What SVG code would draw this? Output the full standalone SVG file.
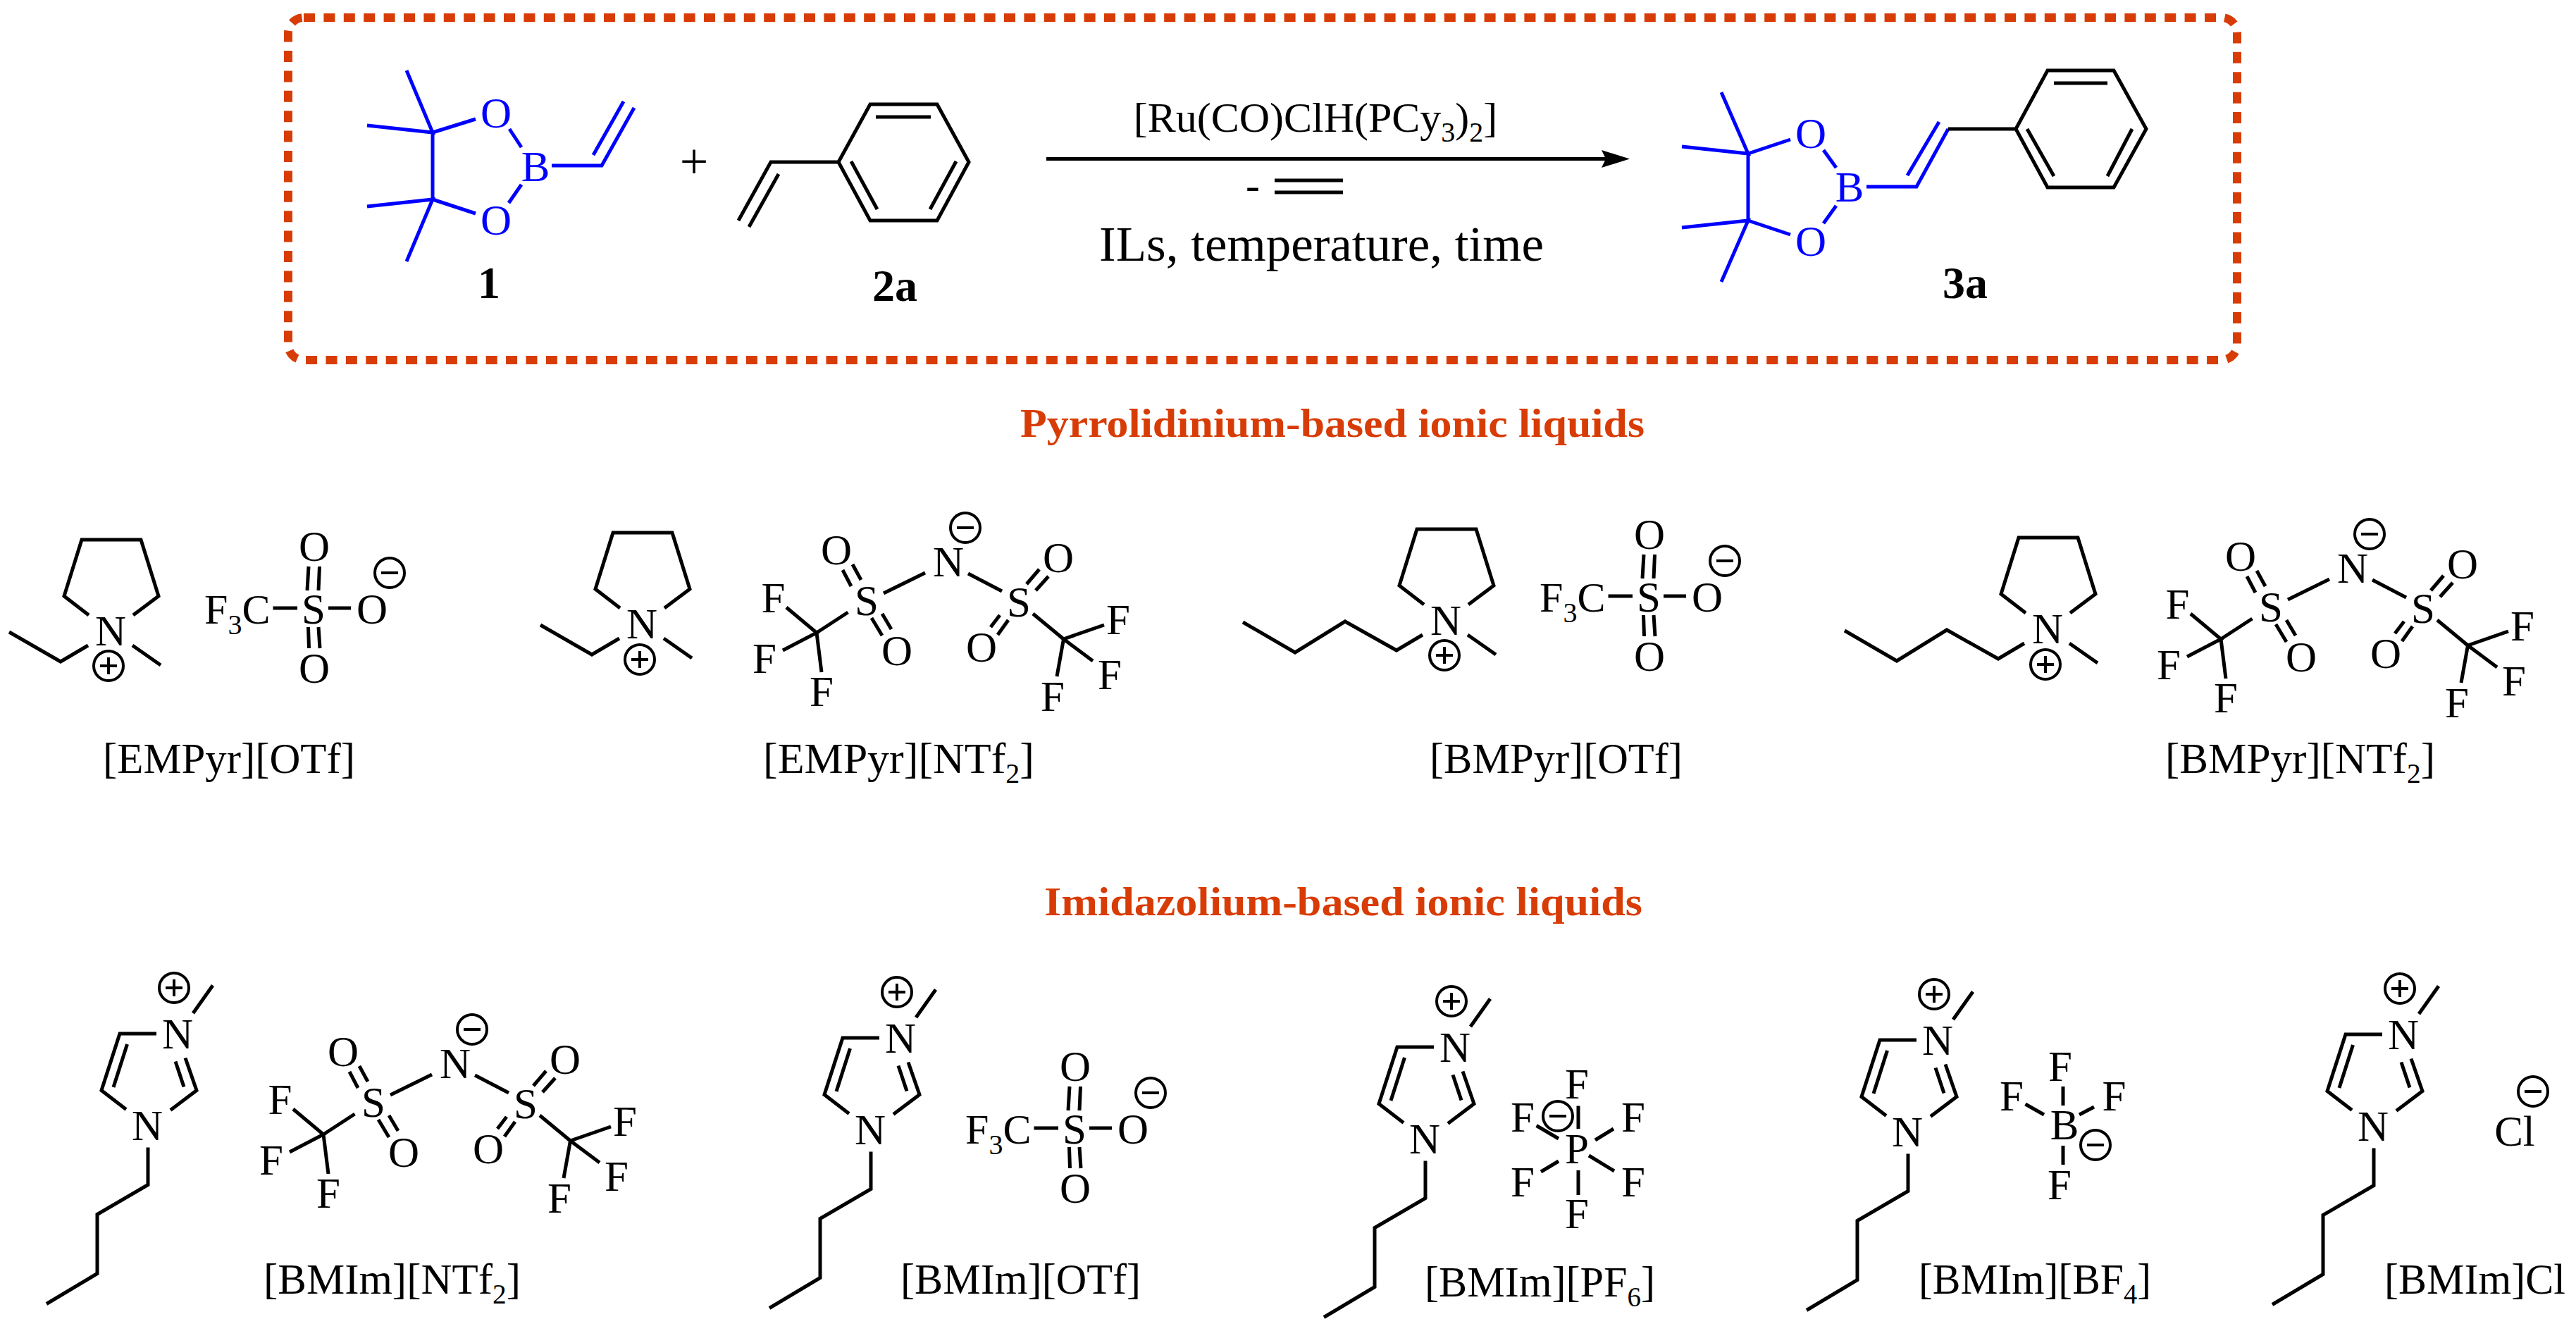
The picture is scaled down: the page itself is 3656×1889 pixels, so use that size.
<svg xmlns="http://www.w3.org/2000/svg" xmlns:xlink="http://www.w3.org/1999/xlink" width="3656" height="1889" viewBox="0 0 3656 1889">
<style>
text{font-family:"Liberation Serif","Times New Roman",serif;fill:#000}
.a{font-size:61px;text-anchor:middle}
.l{font-size:62px}
.s{font-size:40px}
.n{font-size:64px;font-weight:bold;text-anchor:middle}
.h{font-size:58px;font-weight:bold;fill:#D83C06}
.b{fill:none;stroke:#000;stroke-width:5}
.blue .b,.blue.b{stroke:#0000FF}
.blue text{fill:#0000FF}
.c{fill:none;stroke:#000;stroke-width:4}
</style>
<defs>
<g id="plus"><circle r="21"/><path d="M-12,0H12M0,-12V12"/></g>
<g id="minus"><circle r="21"/><path d="M-12,0H12"/></g>
<path id="pyr" d="M-31,-43L-66,-70L-41,-150L43,-150L68,-70L32,-43M31,0L71,28"/>
<path id="et" d="M-32,0L-71,23L-144,-19"/>
<path id="bu" d="M-33,0L-70,22L-143,-19L-214,25L-288,-18"/>
<path id="imi" d="M13,-151H-39L-65,-70.500L-30,-43.500M-28.500,-136L-48,-75M54,-116.500L70,-70.500L33,-42.500M40,-111.500L52,-75.500M65,-180L93,-219.500M1,10.500V63.500L-71,105.500V189.500L-143,232.500"/>
<path id="ntf" d="M-92,24L-33,-5M28,-4L76,21M-138,14L-150,-9M-124,5L-136,-17M111,11L129,-10M124,20L142,0M-109,59L-94,84M-94,53L-81,75M73,55L60,72M85,62L70,83M-142.500,51L-187,80M-230,44L-187,80L-235,105M-187,80L-180,136M120,53L163.500,89M221,69L163.500,89L205,120M163.500,89L154,142"/>
<path id="otf" d="M-57.500,-22H-23M21,-22H53M-7,-81L-9,-47M8.500,-81L7,-47M-7.500,5L-6.500,35M7,5L9,35"/>
</defs>
<rect width="3656" height="1889" fill="#fff"/>

<g id="reaction-frame"><rect x="409" y="25" width="2766" height="486" rx="22" ry="22" fill="none" stroke="#D83C06" stroke-width="12" stroke-dasharray="16 12.400"/></g>

<g id="compound-1" class="blue">
<path class="b" d="M577,100L614,188L521,178M614,188L675,169M614,188V283M521,293L614,283L577,371M614,283L675,303M723,183L740,209M740,262L722,288M783,235H854L900,153M842,220L885,144"/>
<text class="a" x="704" y="181">O</text><text class="a" x="704" y="333">O</text><text class="a" x="760" y="257">B</text>
</g>
<text class="n" x="694" y="423">1</text>
<text class="a" x="985" y="253" style="font-size:72px">+</text>
<g id="compound-2a">
<path class="b" d="M1190,230L1235,148H1330L1375,230L1330,313H1235ZM1243,166H1321M1208,229L1245,297M1357,229L1320,297M1190,230H1094L1048,313M1105,247L1063,322"/>
<text class="n" x="1270" y="427">2a</text>
</g>
<g id="connectors">
<path class="b" d="M1485,225.500H2280"/>
<polygon points="2273,213 2313,225.500 2273,238 2279,225.500" fill="#000"/>
</g>
<g id="conditions">
<text class="a" x="1867" y="187" style="font-size:60px">[Ru(CO)ClH(PCy<tspan class="s" dy="14">3</tspan><tspan dy="-14">)</tspan><tspan class="s" dy="14">2</tspan><tspan dy="-14">]</tspan></text>
<text x="1768" y="283" style="font-size:60px">-</text>
<path class="b" d="M1809,256H1906M1809,273H1906"/>
<text x="1560" y="370" style="font-size:70px" textLength="631" lengthAdjust="spacingAndGlyphs">ILs, temperature, time</text>
</g>
<g id="compound-3a" class="blue">
<path class="b" d="M2443,131L2481,218L2387,208M2481,218L2541,198M2481,218V313M2387,323L2481,313L2443,400M2481,313L2541,333M2588,213L2606,238M2606,292L2588,317M2649,265H2720L2765,183M2707,249L2752,173"/>
<text class="a" x="2570" y="210">O</text><text class="a" x="2570" y="363">O</text><text class="a" x="2625" y="286">B</text>
</g>
<g id="compound-3a-phenyl">
<path class="b" d="M2765,183H2861L2906,100H3000L3046,183L3000,266H2906L2861,183M2915,118H2991M2877,183L2915,250M3026,183L2991,250"/>
<text class="n" x="2789" y="423">3a</text>
</g>

<text id="heading-pyrrolidinium" class="h" x="1448" y="620" textLength="886" lengthAdjust="spacingAndGlyphs">Pyrrolidinium-based ionic liquids</text>

<g id="EMPyr-OTf">
<g transform="translate(157,916)"><g class="b"><use href="#pyr"/><use href="#et"/></g><g class="c"><use href="#plus" x="-3" y="29"/></g><text class="a">N</text></g>
<g transform="translate(445,885)"><g class="b"><use href="#otf"/></g><g class="c"><use href="#minus" x="108" y="-72"/></g><text class="a">S</text><text class="a" x="83">O</text><text class="a" x="1" y="-89">O</text><text class="a" x="1" y="84">O</text><text x="-155" style="font-size:60px">F<tspan class="s" dy="15">3</tspan><tspan dy="-15">C</tspan></text></g>
<text class="l" x="146" y="1097" textLength="358" lengthAdjust="spacingAndGlyphs">[EMPyr][OTf]</text>
</g>
<g id="EMPyr-NTf2">
<g transform="translate(911,906)"><g class="b"><use href="#pyr"/><use href="#et"/></g><g class="c"><use href="#plus" x="-3" y="30"/></g><text class="a">N</text></g>
<g transform="translate(1346,818)"><g class="b"><use href="#ntf"/></g><g class="c"><use href="#minus" x="24" y="-69"/></g><text class="a">N</text><text class="a" x="-116" y="55">S</text><text class="a" x="100" y="57">S</text><text class="a" x="-159" y="-17">O</text><text class="a" x="156" y="-6">O</text><text class="a" x="-73" y="126">O</text><text class="a" x="47" y="121">O</text><text class="a" x="-248.500" y="51">F</text><text class="a" x="-261" y="137">F</text><text class="a" x="-180" y="184">F</text><text class="a" x="241" y="82">F</text><text class="a" x="229" y="160">F</text><text class="a" x="148" y="191">F</text></g>
<text class="l" x="1083" y="1097" textLength="385" lengthAdjust="spacingAndGlyphs">[EMPyr][NTf<tspan class="s" dy="14">2</tspan><tspan dy="-14">]</tspan></text>
</g>
<g id="BMPyr-OTf">
<g transform="translate(2052,901)"><g class="b"><use href="#pyr"/><use href="#bu"/></g><g class="c"><use href="#plus" x="-2" y="29"/></g><text class="a">N</text></g>
<g transform="translate(2340,868)"><g class="b"><use href="#otf"/></g><g class="c"><use href="#minus" x="108" y="-72"/></g><text class="a">S</text><text class="a" x="83">O</text><text class="a" x="1" y="-89">O</text><text class="a" x="1" y="84">O</text><text x="-155" style="font-size:60px">F<tspan class="s" dy="15">3</tspan><tspan dy="-15">C</tspan></text></g>
<text class="l" x="2029" y="1097" textLength="359" lengthAdjust="spacingAndGlyphs">[BMPyr][OTf]</text>
</g>
<g id="BMPyr-NTf2">
<g transform="translate(2906,913)"><g class="b"><use href="#pyr"/><use href="#bu"/></g><g class="c"><use href="#plus" x="-3" y="30"/></g><text class="a">N</text></g>
<g transform="translate(3339,827)"><g class="b"><use href="#ntf"/></g><g class="c"><use href="#minus" x="24" y="-69"/></g><text class="a">N</text><text class="a" x="-116" y="55">S</text><text class="a" x="100" y="57">S</text><text class="a" x="-159" y="-17">O</text><text class="a" x="156" y="-6">O</text><text class="a" x="-73" y="126">O</text><text class="a" x="47" y="121">O</text><text class="a" x="-248.500" y="51">F</text><text class="a" x="-261" y="137">F</text><text class="a" x="-180" y="184">F</text><text class="a" x="241" y="82">F</text><text class="a" x="229" y="160">F</text><text class="a" x="148" y="191">F</text></g>
<text class="l" x="3073" y="1097" textLength="383" lengthAdjust="spacingAndGlyphs">[BMPyr][NTf<tspan class="s" dy="14">2</tspan><tspan dy="-14">]</tspan></text>
</g>

<text id="heading-imidazolium" class="h" x="1482" y="1299" textLength="849" lengthAdjust="spacingAndGlyphs">Imidazolium-based ionic liquids</text>

<g id="BMIm-NTf2">
<g transform="translate(209,1618)"><g class="b"><use href="#imi"/></g><g class="c"><use href="#plus" x="38" y="-216"/></g><text class="a">N</text><text class="a" x="43" y="-130">N</text></g>
<g transform="translate(646,1530)"><g class="b"><use href="#ntf"/></g><g class="c"><use href="#minus" x="24" y="-69"/></g><text class="a">N</text><text class="a" x="-116" y="55">S</text><text class="a" x="100" y="57">S</text><text class="a" x="-159" y="-17">O</text><text class="a" x="156" y="-6">O</text><text class="a" x="-73" y="126">O</text><text class="a" x="47" y="121">O</text><text class="a" x="-248.500" y="51">F</text><text class="a" x="-261" y="137">F</text><text class="a" x="-180" y="184">F</text><text class="a" x="241" y="82">F</text><text class="a" x="229" y="160">F</text><text class="a" x="148" y="191">F</text></g>
<text class="l" x="374" y="1836" textLength="365" lengthAdjust="spacingAndGlyphs">[BMIm][NTf<tspan class="s" dy="14">2</tspan><tspan dy="-14">]</tspan></text>
</g>
<g id="BMIm-OTf">
<g transform="translate(1235,1624)"><g class="b"><use href="#imi"/></g><g class="c"><use href="#plus" x="38" y="-216"/></g><text class="a">N</text><text class="a" x="43" y="-130">N</text></g>
<g transform="translate(1525,1623)"><g class="b"><use href="#otf"/></g><g class="c"><use href="#minus" x="108" y="-72"/></g><text class="a">S</text><text class="a" x="83">O</text><text class="a" x="1" y="-89">O</text><text class="a" x="1" y="84">O</text><text x="-155" style="font-size:60px">F<tspan class="s" dy="15">3</tspan><tspan dy="-15">C</tspan></text></g>
<text class="l" x="1278" y="1836" textLength="341" lengthAdjust="spacingAndGlyphs">[BMIm][OTf]</text>
</g>
<g id="BMIm-PF6">
<g transform="translate(2022,1637)"><g class="b"><use href="#imi"/></g><g class="c"><use href="#plus" x="38" y="-216"/></g><text class="a">N</text><text class="a" x="43" y="-130">N</text></g>
<path class="b" d="M2240,1569.500V1602M2240,1661V1696M2180.600,1597.500L2212,1616M2290,1602L2264,1618M2212,1648L2187,1663M2255,1640L2291,1662"/>
<g class="c"><use href="#minus" x="2211" y="1584"/></g>
<text class="a" x="2238" y="1651">P</text><text class="a" x="2238" y="1559">F</text><text class="a" x="2161" y="1606">F</text><text class="a" x="2318" y="1606">F</text><text class="a" x="2161" y="1698">F</text><text class="a" x="2318" y="1698">F</text><text class="a" x="2238" y="1743">F</text>
<text class="l" x="2022" y="1840" textLength="327" lengthAdjust="spacingAndGlyphs">[BMIm][PF<tspan class="s" dy="14">6</tspan><tspan dy="-14">]</tspan></text>
</g>
<g id="BMIm-BF4">
<g transform="translate(2707,1627)"><g class="b"><use href="#imi"/></g><g class="c"><use href="#plus" x="38" y="-216"/></g><text class="a">N</text><text class="a" x="43" y="-130">N</text></g>
<path class="b" d="M2928,1542V1569M2928,1626V1653M2874.500,1567L2901,1582M2972,1571L2951,1582"/>
<g class="c"><use href="#minus" x="2974" y="1625"/></g>
<text class="a" x="2930" y="1617">B</text><text class="a" x="2924" y="1534">F</text><text class="a" x="2855" y="1575.500">F</text><text class="a" x="3000.500" y="1575.500">F</text><text class="a" x="2923" y="1702">F</text>
<text class="l" x="2723" y="1836" textLength="330" lengthAdjust="spacingAndGlyphs">[BMIm][BF<tspan class="s" dy="14">4</tspan><tspan dy="-14">]</tspan></text>
</g>
<g id="BMIm-Cl">
<g transform="translate(3368,1619)"><g class="b"><use href="#imi"/></g><g class="c"><use href="#plus" x="38" y="-216"/></g><text class="a">N</text><text class="a" x="43" y="-130">N</text></g>
<g class="c"><use href="#minus" x="3595" y="1549"/></g>
<text class="a" x="3569" y="1626">Cl</text>
<text class="l" x="3384" y="1836" textLength="257" lengthAdjust="spacingAndGlyphs">[BMIm]Cl</text>
</g>
</svg>
